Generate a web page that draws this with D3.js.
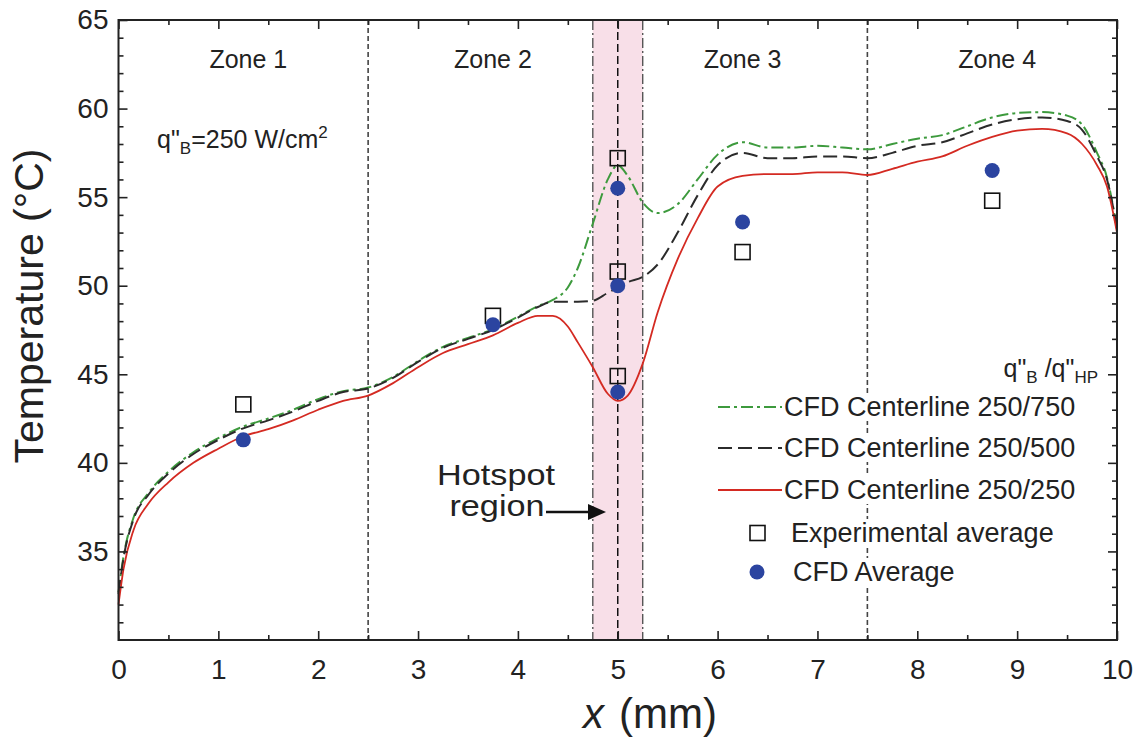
<!DOCTYPE html>
<html>
<head>
<meta charset="utf-8">
<script src="https://cdn.jsdelivr.net/npm/d3@7"></script>
<style>
	body { margin: 0; background: #fff; }
	svg { font-family: "Liberation Sans", Arial, Helvetica, sans-serif; }
</style>
</head>
<body>
<svg id="chart" width="1141" height="740"></svg>
<script>

/**
 * Data
 */
let lineX = [0, 0.05, 0.15, 0.3, 0.5, 0.75, 1.0, 1.25, 1.5, 1.75, 2.0, 2.25, 2.5, 2.75, 3.0, 3.25, 3.5, 3.75, 4.0, 4.2, 4.35, 4.5, 4.6, 4.75, 4.9, 5.0, 5.1, 5.25, 5.4, 5.6, 5.8, 6.0, 6.25, 6.5, 6.75, 7.0, 7.25, 7.5, 7.75, 8.0, 8.25, 8.5, 8.75, 9.0, 9.25, 9.5, 9.65, 9.8, 9.9, 10];
let t750 = [32.7, 34.7, 36.9, 38.3, 39.5, 40.6, 41.4, 42.05, 42.5, 43.0, 43.6, 44.05, 44.25, 44.85, 45.75, 46.55, 47.05, 47.55, 48.25, 48.85, 49.2, 49.9, 51.0, 53.5, 56.0, 56.8, 56.2, 54.7, 54.1, 54.6, 56.0, 57.4, 58.1, 57.8, 57.8, 57.9, 57.8, 57.7, 58.0, 58.3, 58.5, 59.0, 59.5, 59.75, 59.8, 59.6, 59.1, 57.5, 56.1, 53.2];
let t500 = [32.6, 34.6, 36.8, 38.2, 39.4, 40.5, 41.3, 41.95, 42.4, 42.9, 43.5, 44.0, 44.2, 44.8, 45.7, 46.5, 47.0, 47.5, 48.2, 48.8, 49.1, 49.1, 49.1, 49.15, 49.6, 49.9, 50.2, 50.5, 51.2, 53.0, 55.1, 56.8, 57.5, 57.2, 57.2, 57.3, 57.3, 57.2, 57.5, 57.9, 58.1, 58.6, 59.1, 59.4, 59.5, 59.3, 58.8, 57.3, 56.0, 53.2];
let t250 = [32.0, 34.0, 36.2, 37.7, 38.9, 40.0, 40.8, 41.5, 41.9, 42.4, 43.0, 43.5, 43.8, 44.5, 45.4, 46.2, 46.7, 47.2, 47.9, 48.3, 48.3, 47.7, 46.8, 45.4, 43.9, 43.5, 43.8, 45.6, 48.5, 51.5, 53.8, 55.6, 56.2, 56.3, 56.3, 56.4, 56.4, 56.25, 56.6, 57.0, 57.3, 57.9, 58.4, 58.75, 58.85, 58.6, 58.0, 56.8, 55.6, 53.0];

let pointX = [1.25, 3.75, 5, 5, 5, 6.25, 8.75];
let expAvg = [43.3, 48.3, 57.2, 50.8, 44.9, 51.9, 54.8];
let cfdAvg = [41.3, 47.8, 55.5, 50.0, 44.0, 53.6, 56.5];

let zoneEdges = [2.5, 7.5];
let zoneNames = ["Zone 1", "Zone 2", "Zone 3", "Zone 4"];
let zoneLabelX = [1.3, 3.75, 6.25, 8.8];
let hotspot = [4.75, 5.25];
let hotspotCenter = 5;

let xTicks = [0, 1, 2, 3, 4, 5, 6, 7, 8, 9, 10];
let yTicks = [35, 40, 45, 50, 55, 60, 65];

let seriesNames = ["CFD Centerline 250/750", "CFD Centerline 250/500", "CFD Centerline 250/250"];

/**
 * Scales & styles
 */
let svg = d3.select("#chart");
let x = d3.scaleLinear().domain([0, 10]).range([118.5, 1117]);
let y = d3.scaleLinear().domain([30, 65]).range([640, 20]);

let styles = [
	{ color: "#3d9a3d", dash: "12,4,3,4", width: 2 },
	{ color: "#2b2b2b", dash: "14,6", width: 2 },
	{ color: "#d42a22", dash: null, width: 1.8 }
];
let series = [t750, t500, t250];

// Hotspot band
svg.append("rect")
	.attr("x", x(hotspot[0]))
	.attr("y", y(65))
	.attr("width", x(hotspot[1]) - x(hotspot[0]))
	.attr("height", y(30) - y(65))
	.attr("fill", "#f8dfe8");

// Zone dividers
svg.selectAll(".zoneLine")
	.data(zoneEdges)
	.enter()
	.append("line")
	.attr("x1", d => x(d)).attr("x2", d => x(d))
	.attr("y1", y(65)).attr("y2", y(30))
	.attr("stroke", "#444")
	.attr("stroke-width", 1.6)
	.attr("stroke-dasharray", "5,3");

svg.selectAll(".hotLine")
	.data(hotspot)
	.enter()
	.append("line")
	.attr("x1", d => x(d)).attr("x2", d => x(d))
	.attr("y1", y(65)).attr("y2", y(30))
	.attr("stroke", "#555")
	.attr("stroke-width", 1.4)
	.attr("stroke-dasharray", "10,3,2,3");

svg.append("line")
	.attr("x1", x(hotspotCenter)).attr("x2", x(hotspotCenter))
	.attr("y1", y(65)).attr("y2", y(30))
	.attr("stroke", "#111")
	.attr("stroke-width", 1.5)
	.attr("stroke-dasharray", "8,4");

// Legend row backgrounds (hide zone line behind text)
let legendRows = [407, 448, 490, 533, 572];
svg.selectAll(".legendBg")
	.data(legendRows)
	.enter()
	.append("rect")
	.attr("x", 783).attr("width", 310)
	.attr("y", d => d - 14).attr("height", 28)
	.attr("fill", "#fff");

// Curves
let line = d3.line()
	.x((d, i) => x(lineX[i]))
	.y(d => y(d))
	.curve(d3.curveMonotoneX);

series.forEach(function(s, k) {
	svg.append("path")
		.datum(s)
		.attr("d", line)
		.attr("fill", "none")
		.attr("stroke", styles[k].color)
		.attr("stroke-width", styles[k].width)
		.attr("stroke-dasharray", styles[k].dash);
});

// Points
svg.selectAll(".exp")
	.data(expAvg)
	.enter()
	.append("rect")
	.attr("x", (d, i) => x(pointX[i]) - 7.5)
	.attr("y", d => y(d) - 7.5)
	.attr("width", 15).attr("height", 15)
	.attr("fill", "none")
	.attr("stroke", "#111")
	.attr("stroke-width", 1.6);

svg.selectAll(".cfd")
	.data(cfdAvg)
	.enter()
	.append("circle")
	.attr("cx", (d, i) => x(pointX[i]))
	.attr("cy", d => y(d))
	.attr("r", 7.5)
	.attr("fill", "#2b44a0");

/**
 * Axes: ticks pointing inward on all four sides
 */
function styleAxis(g) {
	g.select(".domain").remove();
	g.selectAll("line").attr("stroke", "#222").attr("stroke-width", 1.6);
	g.selectAll("text").attr("fill", "#222").style("font-size", "28px");
}

let halfTicks = d3.range(0.5, 10, 1);
let unitTicks = d3.range(31, 65, 1).filter(v => v % 5 !== 0);

svg.append("g").attr("transform", "translate(0,640)")
	.call(d3.axisBottom(x).tickValues(xTicks).tickSize(-9).tickPadding(19).tickFormat(d3.format("d")))
	.call(styleAxis);
svg.append("g").attr("transform", "translate(0,640)")
	.call(d3.axisBottom(x).tickValues(halfTicks).tickSize(-5).tickFormat(""))
	.call(styleAxis);
svg.append("g").attr("transform", "translate(0,20)")
	.call(d3.axisTop(x).tickValues(xTicks).tickSize(-9).tickFormat(""))
	.call(styleAxis);
svg.append("g").attr("transform", "translate(0,20)")
	.call(d3.axisTop(x).tickValues(halfTicks).tickSize(-5).tickFormat(""))
	.call(styleAxis);

svg.append("g").attr("transform", "translate(118.5,0)")
	.call(d3.axisLeft(y).tickValues(yTicks).tickSize(-9).tickPadding(10).tickFormat(d3.format("d")))
	.call(styleAxis);
svg.append("g").attr("transform", "translate(118.5,0)")
	.call(d3.axisLeft(y).tickValues(unitTicks).tickSize(-5).tickFormat(""))
	.call(styleAxis);
svg.append("g").attr("transform", "translate(1117,0)")
	.call(d3.axisRight(y).tickValues(yTicks).tickSize(-9).tickFormat(""))
	.call(styleAxis);
svg.append("g").attr("transform", "translate(1117,0)")
	.call(d3.axisRight(y).tickValues(unitTicks).tickSize(-5).tickFormat(""))
	.call(styleAxis);

// Frame
svg.append("rect")
	.attr("x", x(0)).attr("y", y(65))
	.attr("width", x(10) - x(0)).attr("height", y(30) - y(65))
	.attr("fill", "none")
	.attr("stroke", "#222")
	.attr("stroke-width", 2);

// Axis titles
svg.append("text")
	.attr("transform", "translate(43,306) rotate(-90)")
	.attr("text-anchor", "middle")
	.attr("fill", "#222")
	.style("font-size", "41px")
	.text("Temperature (°C)");

svg.append("text")
	.attr("x", 583).attr("y", 728)
	.attr("fill", "#222")
	.style("font-size", "42px")
	.style("font-style", "italic")
	.text("x");
svg.append("text")
	.attr("x", 619).attr("y", 728)
	.attr("fill", "#222")
	.style("font-size", "42px")
	.text("(mm)");

// Zone labels
svg.selectAll(".zone")
	.data(zoneNames)
	.enter()
	.append("text")
	.attr("x", (d, i) => x(zoneLabelX[i]))
	.attr("y", 68)
	.attr("text-anchor", "middle")
	.attr("fill", "#222")
	.style("font-size", "25px")
	.text(d => d);

// q"B = 250 W/cm2
let qb = svg.append("text")
	.attr("x", 157).attr("y", 148)
	.attr("fill", "#222")
	.style("font-size", "25px");
qb.append("tspan").text("q\"");
qb.append("tspan").attr("dy", 6).style("font-size", "17px").text("B");
qb.append("tspan").attr("dy", -6).text("=250 W/cm");
qb.append("tspan").attr("dy", -10).style("font-size", "17px").text("2");

// Hotspot annotation (slightly wide lettering as in the figure)
svg.append("text")
	.attr("transform", "translate(496,485) scale(1.18,1)")
	.attr("text-anchor", "middle")
	.attr("fill", "#222")
	.style("font-size", "29px")
	.text("Hotspot");
svg.append("text")
	.attr("transform", "translate(497,516) scale(1.18,1)")
	.attr("text-anchor", "middle")
	.attr("fill", "#222")
	.style("font-size", "29px")
	.text("region");

svg.append("line")
	.attr("x1", 546).attr("x2", 590)
	.attr("y1", 512).attr("y2", 512)
	.attr("stroke", "#111")
	.attr("stroke-width", 2.5);
svg.append("path")
	.attr("d", "M588,504 L606,512 L588,520 Z")
	.attr("fill", "#111");

/**
 * Legend
 */
let lg = svg.append("g");

let qhp = lg.append("text")
	.attr("x", 1098).attr("y", 377)
	.attr("text-anchor", "end")
	.attr("fill", "#222")
	.style("font-size", "25px");
qhp.append("tspan").text("q\"");
qhp.append("tspan").attr("dy", 6).style("font-size", "17px").text("B");
qhp.append("tspan").attr("dy", -6).text(" /q\"");
qhp.append("tspan").attr("dy", 6).style("font-size", "17px").text("HP");

seriesNames.forEach(function(name, k) {
	let cy = legendRows[k];
	lg.append("line")
		.attr("x1", 718).attr("x2", 782)
		.attr("y1", cy).attr("y2", cy)
		.attr("stroke", styles[k].color)
		.attr("stroke-width", styles[k].width)
		.attr("stroke-dasharray", styles[k].dash);
	lg.append("text")
		.attr("x", 784).attr("y", cy + 9)
		.attr("fill", "#222")
		.style("font-size", "27px")
		.text(name);
});

lg.append("rect")
	.attr("x", 750).attr("y", legendRows[3] - 7.5)
	.attr("width", 15).attr("height", 15)
	.attr("fill", "none")
	.attr("stroke", "#111")
	.attr("stroke-width", 1.6);
lg.append("text")
	.attr("x", 791).attr("y", legendRows[3] + 9)
	.attr("fill", "#222")
	.style("font-size", "27px")
	.text("Experimental average");

lg.append("circle")
	.attr("cx", 757).attr("cy", legendRows[4])
	.attr("r", 7.5)
	.attr("fill", "#2b44a0");
lg.append("text")
	.attr("x", 793).attr("y", legendRows[4] + 9)
	.attr("fill", "#222")
	.style("font-size", "27px")
	.text("CFD Average");

</script>
</body>
</html>
